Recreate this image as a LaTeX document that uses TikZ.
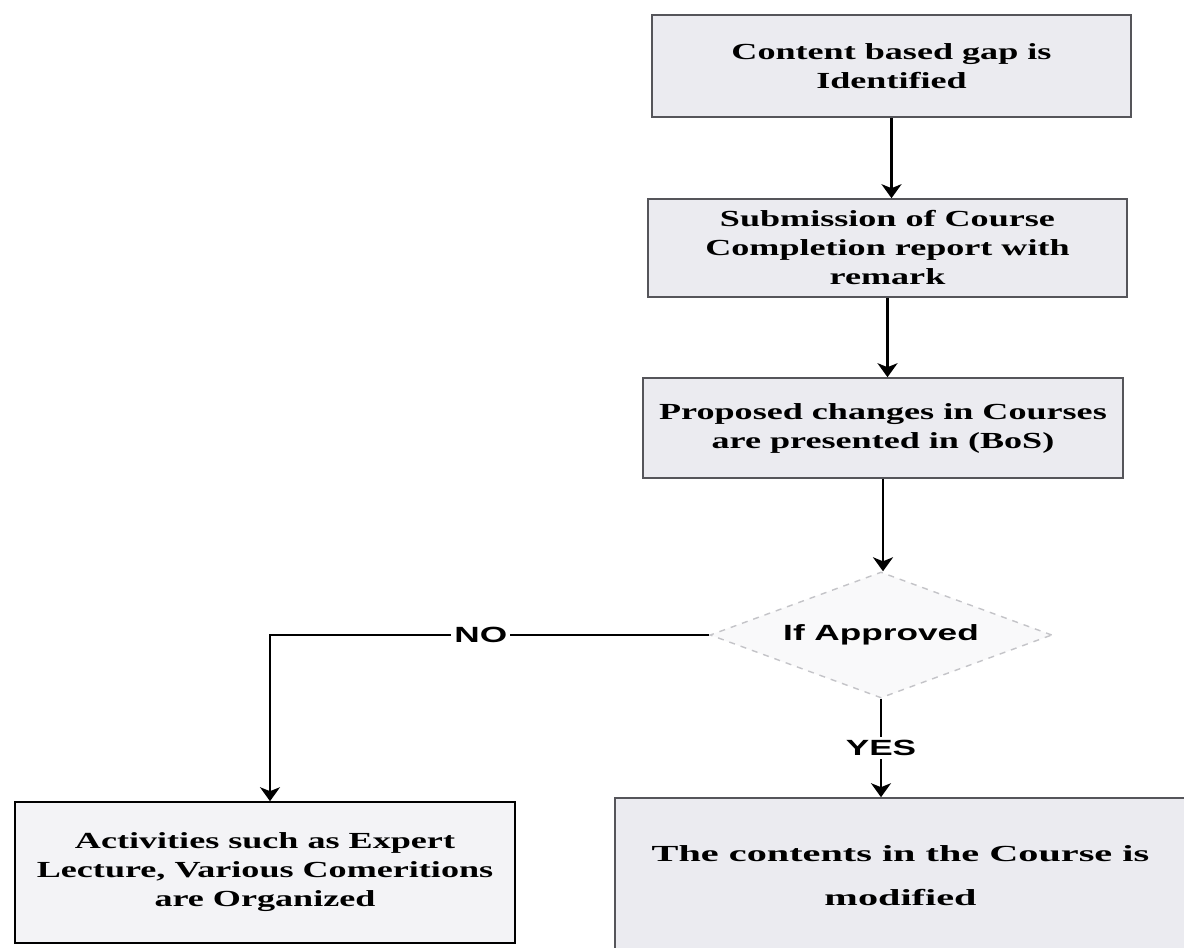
\documentclass[tikz,border=0pt]{standalone}
\usepackage{fontspec}
\usepackage{xcolor}
\usepackage{tikz}
\usetikzlibrary{shapes.geometric, arrows.meta}
\newfontfamily\boxfont[FakeStretch=1.57]{Liberation Serif}
\newfontfamily\wideboxfont[FakeStretch=1.75]{Liberation Serif}
\newfontfamily\tagfont[FakeStretch=1.6]{Liberation Sans}
\definecolor{flowbox}{HTML}{EBEBF0}
\definecolor{flowlite}{HTML}{F3F3F6}
\definecolor{flowedge}{HTML}{55555A}
\definecolor{flowpale}{HTML}{F9F9FA}
\definecolor{flowdash}{HTML}{C4C4C8}

\begin{document}
\begin{tikzpicture}[x=0.5pt, y=-0.5pt,
    stage/.style={rectangle, draw=flowedge, line width=0.8pt, fill=#1, inner sep=0pt, align=center,
        font=\boxfont\bfseries\fontsize{11.5}{14.5}\selectfont},
    check/.style={diamond, draw=flowdash, dashed, line width=0.7pt, fill=flowpale, inner sep=0pt, aspect=2.7,
        font=\tagfont\bfseries\fontsize{11}{13}\selectfont},
    flow/.style={draw=black, line width=1.2pt, -{Stealth[length=7pt, width=10pt, inset=2pt]}},
    branch/.style={draw=black, line width=1pt, -{Stealth[length=7pt, width=10pt, inset=2pt]}},
    answer/.style={fill=white, inner sep=1.5pt, font=\tagfont\bfseries\fontsize{11}{13}\selectfont},
]
\clip (0,0) rectangle (1184,948);
\fill[white] (0,0) rectangle (1184,948);

% review chain down the right side
\node[stage=flowbox, minimum width=239.5pt, minimum height=51pt] (gap) at (891.5,66) {Content based gap is\\Identified};
\node[stage=flowbox, minimum width=239.5pt, minimum height=49pt] (report) at (887.5,248) {Submission of Course\\Completion report with\\remark};
\node[stage=flowbox, minimum width=240pt, minimum height=50pt] (bos) at (883,428) {Proposed changes in Courses\\are presented in (BoS)};
\node[check, minimum width=171pt, minimum height=63pt] (approve) at (881,635) {If Approved};

% outcomes
\node[stage=flowlite, draw=black, minimum width=250pt, minimum height=70.5pt] (act) at (265,872.5) {Activities such as Expert\\Lecture, Various Comeritions\\are Organized};
\node[stage=flowbox, minimum width=285.5pt, minimum height=78pt,
    font=\wideboxfont\bfseries\fontsize{11.5}{22}\selectfont] (modified) at (900.5,876) {The contents in the Course is\\modified};

\coordinate (noturn) at (270,635);

\draw[flow] (gap.south) -- (gap.south |- report.north);
\draw[flow] (report.south) -- (report.south |- bos.north);
\draw[flow] (bos.south) -- (bos.south |- approve.north);
\draw[branch] (approve.west) -- node[answer, pos=0.52] {NO} (noturn) -- (noturn |- act.north);
\draw[branch] (approve.south) -- node[answer, pos=0.5] {YES} (approve.south |- modified.north);
\end{tikzpicture}
\end{document}
